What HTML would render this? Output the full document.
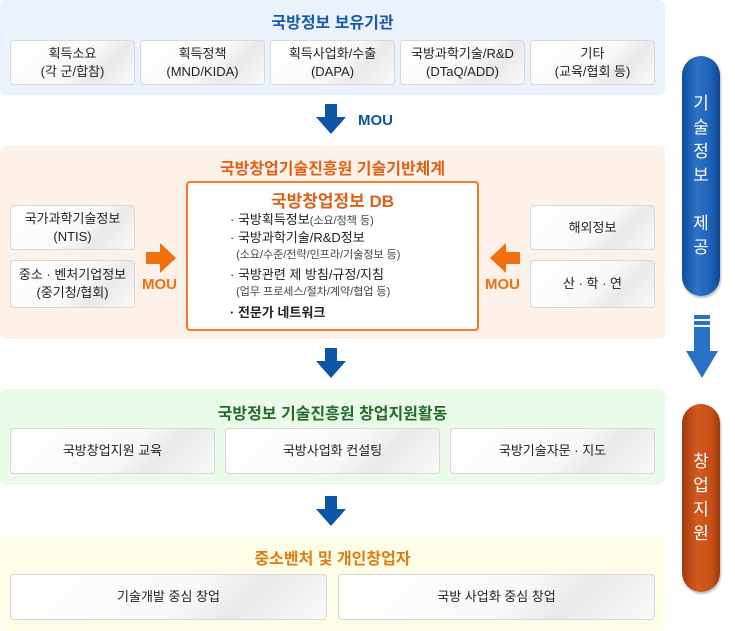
<!DOCTYPE html>
<html><head><meta charset="utf-8"><style>
*{margin:0;padding:0;box-sizing:border-box}
body{width:735px;height:631px;background:#fff;position:relative;overflow:hidden;font-family:"Liberation Sans","Noto Sans CJK KR",sans-serif;color:#333}
.p{position:absolute;left:0;width:665px;border-radius:6px}
.t{position:absolute;left:0;width:665px;text-align:center;font-size:16px;font-weight:bold}
.b{position:absolute;background:linear-gradient(135deg,#fff 0%,#f9f9f9 55%,#e9e9e9 72%,#fafafa 100%);border:1px solid #d8d8d8;border-radius:4px;font-size:13px;text-align:center;display:flex;align-items:center;justify-content:center;line-height:18px;color:#222}
.pill{position:absolute;left:682px;width:38px;border-radius:19px;color:#fff;font-size:17px;text-align:center;line-height:24px;display:flex;flex-direction:column;align-items:center;justify-content:center}
</style></head><body>
<div class="p" style="top:0;height:95px;background:#e9f2fd"></div>
<div class="t" style="top:9px;color:#1a5ba8">국방정보 보유기관</div>
<div class="b" style="left:10px;top:40px;width:125px;height:45px">획득소요<br>(각 군/합참)</div>
<div class="b" style="left:140px;top:40px;width:125px;height:45px">획득정책<br>(MND/KIDA)</div>
<div class="b" style="left:270px;top:40px;width:125px;height:45px">획득사업화/수출<br>(DAPA)</div>
<div class="b" style="left:400px;top:40px;width:125px;height:45px">국방과학기술/R&amp;D<br>(DTaQ/ADD)</div>
<div class="b" style="left:530px;top:40px;width:125px;height:45px">기타<br>(교육/협회 등)</div>
<svg style="position:absolute;left:316px;top:104px" width="30" height="30"><polygon points="9,0 21,0 21,13 30,13 15,30 0,13 9,13" fill="#0d56a6"/></svg>
<div style="position:absolute;left:358px;top:112px;font-size:15px;font-weight:bold;color:#0d56a6">MOU</div>

<div class="p" style="top:146px;height:193px;background:#fdf1e8"></div>
<div class="t" style="top:155px;color:#e0601a">국방창업기술진흥원 기술기반체계</div>
<div style="position:absolute;left:186px;top:181px;width:293px;height:150px;background:#fff;border:2px solid #f07d2a;border-radius:4px"></div>
<div style="position:absolute;left:186px;top:187px;width:293px;text-align:center;font-size:17px;font-weight:bold;color:#e0601a">국방창업정보 DB</div>
<div style="position:absolute;left:230px;top:212px;font-size:13px;line-height:16.5px;color:#222">
· 국방획득정보<span style="font-size:11px;color:#444">(소요/정책 등)</span><br>
· 국방과학기술/R&amp;D정보<br>
<span style="font-size:11px;color:#444">&nbsp;&nbsp;(소요/수준/전략/인프라/기술정보 등)</span><br>
<span style="display:block;margin-top:3px">· 국방관련 제 방침/규정/지침</span>
<span style="font-size:11px;color:#444">&nbsp;&nbsp;(업무 프로세스/절차/계약/협업 등)</span><br>
<span style="display:block;margin-top:4px;font-weight:bold">· 전문가 네트워크</span></div>
<div class="b" style="left:10px;top:205px;width:125px;height:45px">국가과학기술정보<br>(NTIS)</div>
<div class="b" style="left:10px;top:260px;width:125px;height:48px">중소 · 벤처기업정보<br>(중기청/협회)</div>
<div class="b" style="left:530px;top:205px;width:125px;height:45px">해외정보</div>
<div class="b" style="left:530px;top:260px;width:125px;height:48px">산 · 학 · 연</div>
<svg style="position:absolute;left:146px;top:243px" width="30" height="30"><polygon points="0,9 14,9 14,0 30,15 14,30 14,21 0,21" fill="#f07010"/></svg>
<svg style="position:absolute;left:490px;top:243px" width="30" height="30"><polygon points="30,9 16,9 16,0 0,15 16,30 16,21 30,21" fill="#f07010"/></svg>
<div style="position:absolute;left:142px;top:276px;font-size:15px;font-weight:bold;color:#f07010">MOU</div>
<div style="position:absolute;left:485px;top:276px;font-size:15px;font-weight:bold;color:#f07010">MOU</div>

<svg style="position:absolute;left:316px;top:348px" width="30" height="30"><polygon points="9,0 21,0 21,13 30,13 15,30 0,13 9,13" fill="#0d56a6"/></svg>

<div class="p" style="top:389px;height:96px;background:#ebfbea"></div>
<div class="t" style="top:400px;color:#236c2a">국방정보 기술진흥원 창업지원활동</div>
<div class="b" style="left:10px;top:428px;width:205px;height:46px">국방창업지원 교육</div>
<div class="b" style="left:225px;top:428px;width:215px;height:46px">국방사업화 컨설팅</div>
<div class="b" style="left:450px;top:428px;width:205px;height:46px">국방기술자문 · 지도</div>

<svg style="position:absolute;left:316px;top:496px" width="30" height="30"><polygon points="9,0 21,0 21,13 30,13 15,30 0,13 9,13" fill="#0d56a6"/></svg>

<div class="p" style="top:535px;height:96px;background:#fdfde8"></div>
<div class="t" style="top:545px;color:#e07d10">중소벤처 및 개인창업자</div>
<div class="b" style="left:10px;top:574px;width:317px;height:46px">기술개발 중심 창업</div>
<div class="b" style="left:338px;top:574px;width:317px;height:46px">국방 사업화 중심 창업</div>

<div class="pill" style="top:56px;height:240px;background:linear-gradient(90deg,#0e4d9c,#2d73c8 40%,#1b5db2 80%,#0d4690);box-shadow:1px 2px 2px #bbb">기<br>술<br>정<br>보<br><br>제<br>공</div>
<svg style="position:absolute;left:686px;top:315px" width="32" height="63"><rect x="8" y="0" width="16" height="4" fill="#2a72c6"/><rect x="8" y="6" width="16" height="4" fill="#2a72c6"/><rect x="8" y="12" width="16" height="24" fill="#2a72c6"/><polygon points="0,36 32,36 16,63" fill="#2a72c6"/></svg>
<div class="pill" style="top:404px;height:188px;background:linear-gradient(90deg,#a33a0c,#d25a1e 40%,#c44f16 80%,#9a360a);box-shadow:1px 2px 2px #bbb">창<br>업<br>지<br>원</div>
</body></html>
